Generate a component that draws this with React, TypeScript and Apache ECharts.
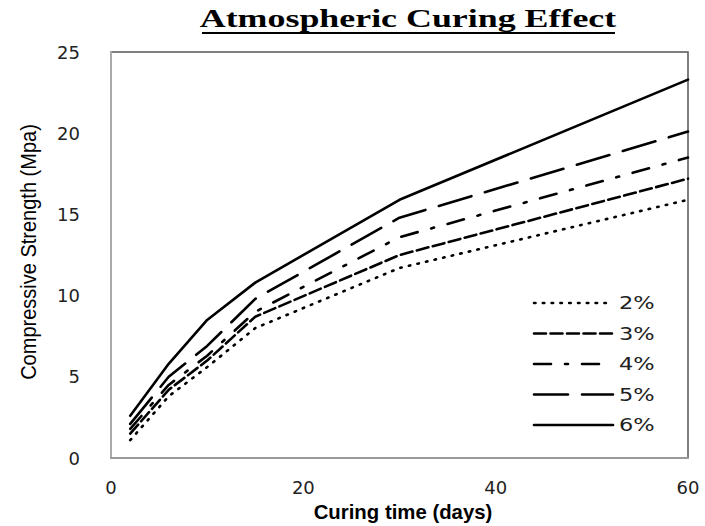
import React, { useEffect, useRef } from "react";
import * as echarts from "echarts";

const days = [2, 6, 10, 15, 30, 60];
const seriesNames = ["2%", "3%", "4%", "5%", "6%"];
const s2 = [1.1, 3.8, 5.6, 8.0, 11.7, 15.9];
const s3 = [1.5, 4.2, 6.0, 8.7, 12.5, 17.2];
const s4 = [1.8, 4.5, 6.3, 9.0, 13.6, 18.5];
const s5 = [2.1, 5.0, 6.9, 9.8, 14.8, 20.1];
const s6 = [2.6, 5.8, 8.5, 10.8, 15.9, 23.3];
const allValues = [s2, s3, s4, s5, s6];
const dashTypes: any[] = [[1.5, 7.3], [12, 4.5], [17, 14, 3, 14], [34, 14], "solid"];
const legendDash: any[] = [[1.5, 7.3], [12, 4.5], [17, 14, 3, 14], [34, 14], null];

export default function App() {
  const ref = useRef<HTMLDivElement>(null);
  useEffect(() => {
    const chart = echarts.init(ref.current!, null, { renderer: "svg" });
    const series = allValues.map((vals, i) => ({
      name: seriesNames[i],
      type: "line",
      symbol: "none",
      data: vals.map((v, j) => [days[j], v]),
      lineStyle: { color: "#000", width: 2.6, type: dashTypes[i], cap: "round" },
      itemStyle: { color: "#000" },
    }));
    const legendTop = 303;
    const legendGap = 30.5;
    const legendGraphics: any[] = [];
    seriesNames.forEach((name, i) => {
      const y = legendTop + i * legendGap;
      legendGraphics.push({
        type: "line",
        shape: { x1: 534, y1: y, x2: 613, y2: y },
        style: {
          stroke: "#000",
          lineWidth: 2.6,
          lineDash: legendDash[i] || undefined,
          lineCap: "round",
        },
      });
      legendGraphics.push({
        type: "text",
        x: 619,
        y: y,
        scaleX: 1.25,
        style: {
          text: name,
          font: "18px 'DejaVu Sans'",
          fill: "#222",
          textAlign: "left",
          textVerticalAlign: "middle",
        },
      });
    });
    chart.setOption({
      animation: false,
      backgroundColor: "#fff",
      grid: { left: 111, top: 52, right: 17, bottom: 68, show: true, borderColor: "#555", borderWidth: 1.5 },
      xAxis: {
        type: "value",
        min: 0,
        max: 60,
        interval: 20,
        splitLine: { show: false },
        axisTick: { show: false },
        axisLine: { show: true, lineStyle: { color: "#999", width: 2 } },
        axisLabel: { margin: 20, fontSize: 18, color: "#222", fontFamily: "DejaVu Sans" },
      },
      yAxis: {
        type: "value",
        min: 0,
        max: 25,
        interval: 5,
        splitLine: { show: false },
        axisTick: { show: false },
        axisLine: { show: true, lineStyle: { color: "#aaa", width: 2 } },
        axisLabel: { margin: 31, fontSize: 18, color: "#222", fontFamily: "DejaVu Sans" },
      },
      graphic: [
        {
          type: "text",
          x: 408,
          y: 18,
          scaleX: 1.38,
          style: {
            text: "Atmospheric Curing Effect",
            font: "bold 26px 'Liberation Serif'",
            fill: "#000",
            textAlign: "center",
            textVerticalAlign: "middle",
          },
        },
        {
          type: "line",
          shape: { x1: 202, y1: 33, x2: 615, y2: 33 },
          style: { stroke: "#000", lineWidth: 2 },
        },
        {
          type: "text",
          x: 403,
          y: 511,
          scaleX: 0.97,
          style: {
            text: "Curing time (days)",
            font: "bold 21px 'Liberation Sans'",
            fill: "#000",
            textAlign: "center",
            textVerticalAlign: "middle",
          },
        },
        {
          type: "text",
          x: 28,
          y: 252,
          rotation: Math.PI / 2,
          scaleX: 0.91,
          style: {
            text: "Compressive Strength (Mpa)",
            font: "22px 'Liberation Sans'",
            fill: "#000",
            textAlign: "center",
            textVerticalAlign: "middle",
          },
        },
        ...legendGraphics,
      ],
      series,
    });
    return () => chart.dispose();
  }, []);
  return <div ref={ref} style={{ width: 705, height: 526, position: "absolute", left: 0, top: 0 }} />;
}
